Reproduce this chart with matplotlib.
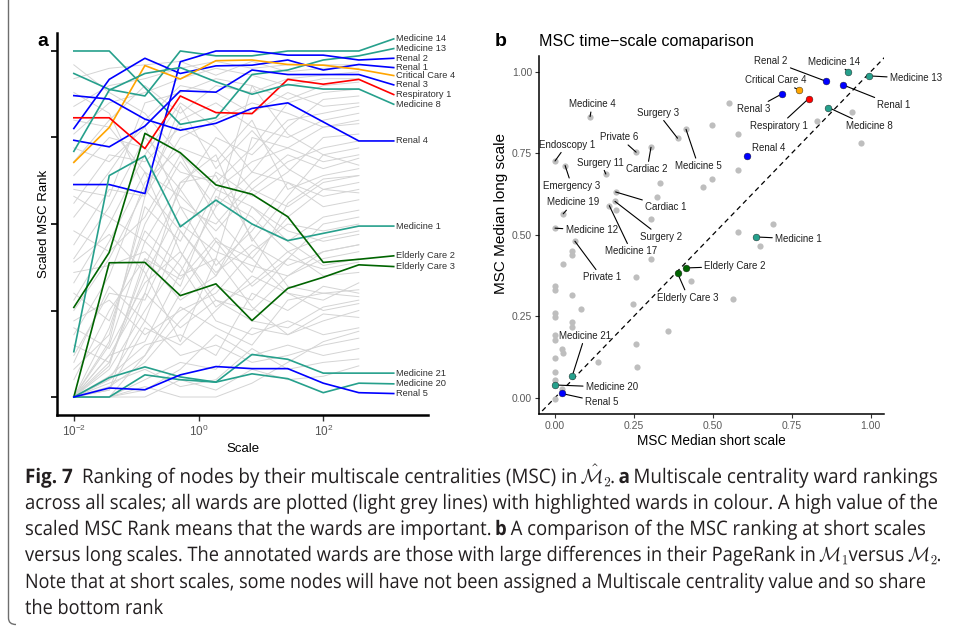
"""
Fig. 7 - multiscale centrality rankings (panel a) and short vs long scale comparison (panel b)
"""

import matplotlib
matplotlib.use("Agg")
import matplotlib.pyplot as plt
import numpy as np
from matplotlib.font_manager import FontProperties
from matplotlib.patches import PathPatch
from matplotlib.path import Path
from matplotlib.textpath import TextPath
from matplotlib.ticker import NullLocator
from matplotlib.transforms import Affine2D, IdentityTransform

plt.rcParams['font.family'] = ['Liberation Sans', 'DejaVu Sans']

############   DATA   #############
# panel a : scales at which the MSC rank was computed
scales = [0.01, 0.037, 0.138, 0.51, 1.9, 7.2, 27, 100, 372]

# background wards (light grey lines)
grey_ranks = [
    [0.00, 0.05, 0.12, 0.30, 0.45, 0.40, 0.52, 0.60, 0.62],
    [0.00, 0.02, 0.20, 0.15, 0.25, 0.35, 0.30, 0.28, 0.33],
    [0.00, 0.10, 0.35, 0.55, 0.50, 0.62, 0.70, 0.66, 0.69],
    [0.00, 0.00, 0.05, 0.10, 0.08, 0.20, 0.18, 0.22, 0.25],
    [0.00, 0.08, 0.25, 0.40, 0.60, 0.55, 0.48, 0.45, 0.47],
    [0.00, 0.00, 0.02, 0.08, 0.18, 0.12, 0.15, 0.12, 0.14],
    [0.00, 0.15, 0.45, 0.35, 0.40, 0.75, 0.72, 0.78, 0.80],
    [0.00, 0.03, 0.10, 0.22, 0.32, 0.28, 0.40, 0.37, 0.39],
    [0.00, 0.00, 0.00, 0.05, 0.02, 0.08, 0.05, 0.06, 0.09],
    [0.00, 0.12, 0.30, 0.62, 0.70, 0.45, 0.58, 0.70, 0.72],
    [0.00, 0.06, 0.15, 0.18, 0.12, 0.30, 0.25, 0.32, 0.30],
    [0.00, 0.20, 0.50, 0.68, 0.55, 0.65, 0.62, 0.55, 0.57],
    [0.00, 0.04, 0.08, 0.03, 0.05, 0.14, 0.08, 0.10, 0.11],
    [0.00, 0.00, 0.03, 0.00, 0.00, 0.04, 0.10, 0.16, 0.19],
    [0.00, 0.02, 0.30, 0.20, 0.28, 0.22, 0.20, 0.26, 0.28],
    [0.00, 0.00, 0.12, 0.26, 0.20, 0.15, 0.28, 0.30, 0.31],
    [0.00, 0.05, 0.22, 0.48, 0.36, 0.44, 0.38, 0.42, 0.44],
    [0.00, 0.09, 0.40, 0.34, 0.46, 0.36, 0.56, 0.63, 0.64],
    [0.05, 0.25, 0.40, 0.28, 0.35, 0.50, 0.45, 0.52, 0.54],
    [0.08, 0.18, 0.55, 0.45, 0.65, 0.58, 0.65, 0.75, 0.76],
    [0.10, 0.32, 0.22, 0.12, 0.15, 0.10, 0.12, 0.15, 0.17],
    [0.12, 0.30, 0.28, 0.50, 0.42, 0.38, 0.35, 0.40, 0.42],
    [0.15, 0.10, 0.38, 0.60, 0.75, 0.70, 0.80, 0.82, 0.84],
    [0.18, 0.35, 0.62, 0.72, 0.68, 0.80, 0.60, 0.64, 0.66],
    [0.20, 0.14, 0.33, 0.42, 0.26, 0.33, 0.42, 0.46, 0.48],
    [0.22, 0.28, 0.18, 0.25, 0.30, 0.42, 0.50, 0.48, 0.50],
    [0.25, 0.40, 0.60, 0.80, 0.85, 0.78, 0.75, 0.80, 0.82],
    [0.28, 0.45, 0.65, 0.58, 0.48, 0.60, 0.68, 0.72, 0.74],
    [0.30, 0.22, 0.48, 0.38, 0.22, 0.18, 0.22, 0.18, 0.20],
    [0.33, 0.50, 0.70, 0.85, 0.78, 0.65, 0.78, 0.86, 0.87],
    [0.36, 0.38, 0.42, 0.32, 0.58, 0.52, 0.42, 0.35, 0.36],
    [0.40, 0.55, 0.75, 0.65, 0.62, 0.72, 0.85, 0.88, 0.89],
    [0.44, 0.60, 0.58, 0.75, 0.80, 0.85, 0.82, 0.78, 0.79],
    [0.48, 0.42, 0.52, 0.70, 0.52, 0.40, 0.30, 0.25, 0.27],
    [0.52, 0.65, 0.80, 0.90, 0.88, 0.82, 0.88, 0.84, 0.85],
    [0.56, 0.70, 0.68, 0.78, 0.72, 0.60, 0.55, 0.62, 0.64],
    [0.60, 0.58, 0.85, 0.88, 0.92, 0.90, 0.86, 0.90, 0.91],
    [0.64, 0.75, 0.72, 0.60, 0.45, 0.32, 0.40, 0.50, 0.52],
    [0.68, 0.80, 0.90, 0.82, 0.90, 0.88, 0.92, 0.93, 0.94],
    [0.72, 0.68, 0.78, 0.55, 0.38, 0.48, 0.62, 0.58, 0.60],
    [0.76, 0.85, 0.88, 0.92, 0.95, 0.93, 0.90, 0.92, 0.92],
    [0.80, 0.78, 0.65, 0.42, 0.28, 0.25, 0.35, 0.42, 0.44],
    [0.84, 0.90, 0.92, 0.95, 0.97, 0.95, 0.96, 0.96, 0.96],
    [0.88, 0.82, 0.60, 0.48, 0.35, 0.55, 0.45, 0.38, 0.40],
    [0.92, 0.95, 0.96, 0.97, 0.93, 0.97, 0.94, 0.95, 0.95],
    [0.96, 0.88, 0.82, 0.70, 0.60, 0.68, 0.72, 0.68, 0.70],
    [0.00, 0.16, 0.58, 0.84, 0.66, 0.77, 0.66, 0.60, 0.59],
    [0.00, 0.12, 0.16, 0.36, 0.55, 0.90, 0.76, 0.70, 0.67],
    [0.39, 0.47, 0.36, 0.16, 0.40, 0.26, 0.18, 0.24, 0.23],
    [0.58, 0.52, 0.45, 0.62, 0.64, 0.46, 0.32, 0.30, 0.29],
]

# highlighted wards
ward_names = ["Medicine 14", "Medicine 13", "Renal 2", "Renal 1", "Critical Care 4",
              "Renal 3", "Respiratory 1", "Medicine 8", "Renal 4", "Medicine 1",
              "Elderly Care 2", "Elderly Care 3", "Medicine 21", "Medicine 20", "Renal 5"]
ward_types = ["med", "med", "renal", "renal", "cc", "renal", "resp", "med", "renal",
              "med", "elderly", "elderly", "med", "med", "renal"]
ward_ranks = [
    [0.935, 0.889, 0.870, 1.000, 0.986, 0.986, 1.000, 1.000, 1.000],
    [1.000, 1.000, 0.894, 0.788, 0.807, 0.932, 0.945, 0.974, 0.986],
    [0.614, 0.614, 0.588, 0.969, 1.000, 1.000, 0.988, 0.988, 0.974],
    [0.776, 0.918, 0.979, 0.935, 0.957, 0.959, 0.974, 0.945, 0.961],
    [0.678, 0.779, 0.958, 0.919, 0.972, 0.974, 0.961, 0.959, 0.947],
    [0.742, 0.723, 0.783, 0.885, 0.881, 0.945, 0.932, 0.932, 0.932],
    [0.807, 0.807, 0.718, 0.870, 0.822, 0.819, 0.918, 0.904, 0.918],
    [0.710, 0.887, 0.935, 0.952, 0.911, 0.875, 0.903, 0.890, 0.890],
    [0.871, 0.861, 0.803, 0.771, 0.791, 0.834, 0.850, 0.795, 0.740],
    [0.131, 0.640, 0.697, 0.492, 0.569, 0.500, 0.452, 0.473, 0.494],
    [0.259, 0.418, 0.762, 0.706, 0.613, 0.586, 0.521, 0.389, 0.398],
    [0.000, 0.388, 0.389, 0.293, 0.327, 0.221, 0.314, 0.346, 0.382],
    [0.000, 0.056, 0.087, 0.058, 0.043, 0.123, 0.109, 0.069, 0.069],
    [0.000, 0.000, 0.064, 0.050, 0.043, 0.067, 0.053, 0.0125, 0.040],
    [0.000, 0.026, 0.021, 0.064, 0.088, 0.082, 0.082, 0.040, 0.0125],
]
# repelled label heights at the right hand side
ward_label_y = [1.035, 1.007, 0.979, 0.952, 0.929, 0.902, 0.874, 0.846, 0.740,
                0.494, 0.408, 0.377, 0.069, 0.038, 0.010]

# panel b : median MSC at short / long scales, highlighted wards
ward_short = [0.929, 0.995, 0.857, 0.913, 0.774, 0.719, 0.803, 0.866, 0.609,
              0.636, 0.415, 0.388, 0.055, 0.000, 0.021]
ward_long = [1.000, 0.987, 0.971, 0.959, 0.944, 0.932, 0.917, 0.890, 0.740,
             0.493, 0.398, 0.382, 0.068, 0.039, 0.013]

# annotated grey wards
grey_names = ["Medicine 4", "Surgery 3", "Medicine 5", "Private 6", "Cardiac 2",
              "Endoscopy 1", "Emergency 3", "Surgery 11", "Cardiac 1", "Medicine 19",
              "Medicine 12", "Surgery 2", "Medicine 17", "Private 1"]
grey_named_short = [0.111, 0.388, 0.415, 0.257, 0.304, 0.000, 0.032, 0.161, 0.192,
                    0.026, 0.000, 0.190, 0.172, 0.063]
grey_named_long = [0.862, 0.796, 0.823, 0.753, 0.768, 0.726, 0.712, 0.686, 0.631,
                   0.564, 0.520, 0.602, 0.589, 0.480]

# other wards
other_short = [0.552, 0.498, 0.579, 0.831, 0.940, 0.968, 0.578, 0.498, 0.470, 0.333,
               0.324, 0.192, 0.304, 0.578, 0.692, 0.649, 0.055, 0.055, 0.026, 0.304,
               0.256, 0.431, 0.563, 0.000, 0.000, 0.055, 0.082, 0.248, 0.000, 0.000,
               0.055, 0.055, 0.359, 0.000, 0.000, 0.021, 0.026, 0.256, 0.000, 0.137,
               0.259, 0.000, 0.000, 0.021, 0.000]
other_long = [0.905, 0.836, 0.808, 0.850, 0.877, 0.781, 0.698, 0.671, 0.645, 0.657,
              0.617, 0.577, 0.549, 0.507, 0.534, 0.466, 0.451, 0.439, 0.411, 0.425,
              0.369, 0.357, 0.302, 0.343, 0.329, 0.314, 0.273, 0.287, 0.259, 0.246,
              0.232, 0.218, 0.205, 0.191, 0.177, 0.150, 0.136, 0.164, 0.121, 0.108,
              0.095, 0.080, 0.054, 0.026, -0.003]

############   STYLE / LAYOUT   #############
colours = {"med": "#26a08c", "renal": "#0000ff", "cc": "#ffa500",
           "resp": "#ff0000", "elderly": "#006400"}

# label positions in panel b (text centre, data coords)
ward_text_xy = [(0.885, 1.031), (1.143, 0.979), (0.684, 1.034), (1.074, 0.897),
                (0.700, 0.974), (0.630, 0.885), (0.710, 0.834), (0.995, 0.832),
                (0.677, 0.767), (0.771, 0.487), (0.570, 0.403), (0.422, 0.307),
                (0.095, 0.190), (0.180, 0.032), (0.148, -0.014)]
grey_text_xy = [(0.118, 0.900), (0.325, 0.874), (0.454, 0.711), (0.204, 0.799),
                (0.292, 0.701), (0.037, 0.776), (0.053, 0.650), (0.145, 0.721),
                (0.351, 0.585), (0.058, 0.599), (0.116, 0.513), (0.336, 0.493),
                (0.241, 0.449), (0.148, 0.369)]

W, H = 955, 626
fig = plt.figure(figsize=(W / 100, H / 100), dpi=100)


def px_box(left, top, right, bottom):
    return [left / W, 1 - bottom / H, (right - left) / W, (bottom - top) / H]


#--- panel a ---
ax = fig.add_axes(px_box(57, 33, 428, 415))
for g in grey_ranks:
    ax.plot(scales, g, color="#d4d4d4", lw=0.7, zorder=1)
for name, kind, vals, ly in zip(ward_names, ward_types, ward_ranks, ward_label_y):
    c = colours[kind]
    ax.plot(scales + [1350], vals + [ly], color=c, lw=1.2, zorder=3, clip_on=False)
    ax.text(1450, ly, name, fontsize=6.7, color="#303030", va="center", ha="left",
            clip_on=False)
ax.set_xscale("log")
ax.set_xlim(10 ** -2.27, 10 ** 3.68)
ax.set_ylim(-0.052, 1.052)
ax.set_xticks([1e-2, 1, 1e2])
ax.xaxis.set_minor_locator(NullLocator())
ax.set_yticks([0, 0.25, 0.5, 0.75, 1.0])
ax.tick_params(axis="y", labelleft=False, length=4, width=1.2, color="black")
ax.tick_params(axis="x", length=4, width=1.0, color="#333333", labelsize=8.5,
               labelcolor="#555555", pad=2)
for s in ["top", "right"]:
    ax.spines[s].set_visible(False)
for s in ["left", "bottom"]:
    ax.spines[s].set_linewidth(1.8)
ax.set_xlabel("Scale", fontsize=9.5, labelpad=3)
ax.set_ylabel("Scaled MSC Rank", fontsize=9.5)
ax.yaxis.set_label_coords(-0.02, 0.5)
fig.text(37 / W, 1 - 46 / H, "a", fontsize=14, fontweight="bold", va="baseline")

#--- panel b ---
bx = fig.add_axes(px_box(539, 56, 884, 414))
bx.plot([-0.06, 1.06], [-0.06, 1.06], color="black", lw=0.9, ls=(0, (4, 3)), zorder=1)
bx.scatter(other_short, other_long, s=20, color="#bebebe", lw=0, zorder=2)
bx.scatter(grey_named_short, grey_named_long, s=20, color="#bebebe", lw=0, zorder=2)
for name, xs, yl, (tx, ty) in zip(grey_names, grey_named_short, grey_named_long, grey_text_xy):
    bx.annotate(name, xy=(xs, yl), xytext=(tx, ty), fontsize=7, color="#202020",
                ha="center", va="center", annotation_clip=False,
                arrowprops=dict(arrowstyle="-", color="black", lw=0.8,
                                shrinkA=0, shrinkB=0))
for name, kind, xs, yl, (tx, ty) in zip(ward_names, ward_types, ward_short, ward_long, ward_text_xy):
    bx.scatter([xs], [yl], s=24, color=colours[kind], edgecolor="#1a1a1a", lw=0.3,
               zorder=4, clip_on=False)
    bx.annotate(name, xy=(xs, yl), xytext=(tx, ty), fontsize=7, color="#202020",
                ha="center", va="center", annotation_clip=False,
                arrowprops=dict(arrowstyle="-", color="black", lw=0.8,
                                shrinkA=0, shrinkB=0))
bx.set_xlim(-0.0507, 1.042)
bx.set_ylim(-0.05, 1.048)
bx.set_xticks([0, 0.25, 0.5, 0.75, 1.0])
bx.set_yticks([0, 0.25, 0.5, 0.75, 1.0])
bx.set_xticklabels(["0.00", "0.25", "0.50", "0.75", "1.00"])
bx.set_yticklabels(["0.00", "0.25", "0.50", "0.75", "1.00"])
bx.tick_params(length=3, width=0.8, color="#333333", labelsize=7.5,
               labelcolor="#5a5a5a", pad=2)
for s in ["top", "right"]:
    bx.spines[s].set_visible(False)
for s in ["left", "bottom"]:
    bx.spines[s].set_linewidth(1.1)
bx.set_xlabel("MSC Median short scale", fontsize=9.8, labelpad=2)
bx.set_ylabel("MSC Median long scale", fontsize=11)
bx.yaxis.set_label_coords(-0.09, 0.56)
fig.text(495 / W, 1 - 46 / H, "b", fontsize=14, fontweight="bold", va="baseline")
fig.text(539 / W, 1 - 46 / H, "MSC time\u2212scale comaparison", fontsize=11.6,
         va="baseline")

#--- caption (drawn as paths, squeezed horizontally like the scan) ---
cap_lines = [
    [("Fig. 7", "b", 0), ("Ranking of nodes by their multiscale centralities (MSC) in", "r", 2),
     (r"$\hat{\mathcal{M}}_2$", "r", 1), (".", "r", 0), ("a", "b", 1),
     ("Multiscale centrality ward rankings", "r", 1)],
    [("across all scales; all wards are plotted (light grey lines) with highlighted wards in colour. A high value of the", "r", 0)],
    [("scaled MSC Rank means that the wards are important.", "r", 0), ("b", "b", 1),
     ("A comparison of the MSC ranking at short scales", "r", 1)],
    [("versus long scales. The annotated wards are those with large differences in their PageRank in", "r", 0),
     (r"$\mathcal{M}_1$", "r", 1), ("versus", "r", 0.3), (r"$\mathcal{M}_2$", "r", 1), (".", "r", 0)],
    [("Note that at short scales, some nodes will have not been assigned a Multiscale centrality value and so share", "r", 0)],
    [("the bottom rank", "r", 0)],
]
cap_baselines = [483, 509, 535, 561, 588, 614]
cap_right = [937, 937, 925, 940, 925, 163]

fp_r = FontProperties(family="Open Sans", math_fontfamily="cm")
fp_b = FontProperties(family="Open Sans", weight="bold")
EM = 20


def run_path(txt, style):
    return TextPath((0, 0), txt, size=EM, prop=fp_b if style == "b" else fp_r)


space_w = (run_path("n n", "r").get_extents().x1 - run_path("nn", "r").get_extents().x1)


def layout(line):
    items, x = [], 0.0
    for txt, style, gap in line:
        x += gap * space_w
        p = run_path(txt, style)
        items.append((p, x))
        x += p.get_extents().x1
    return items, x


for line, base, right in zip(cap_lines, cap_baselines, cap_right):
    items, wl = layout(line)
    sx = (right - 25) / wl
    for p, x in items:
        tr = Affine2D().scale(sx, 1.0).translate(25 + x * sx, H - base)
        fig.add_artist(PathPatch(tr.transform_path(p), facecolor="#231f20", lw=0,
                                 transform=IdentityTransform()))

# frame of the figure box (left edge, rounded bottom corner)
frame = Path([(8.5, H), (8.5, 8), (8.5, 1.5), (16, 1.5)],
             [Path.MOVETO, Path.LINETO, Path.CURVE3, Path.CURVE3])
fig.add_artist(PathPatch(frame, facecolor="none", edgecolor="#6e6e6e", lw=1.0,
                         transform=IdentityTransform()))

fig.savefig("out.png", dpi=100)
